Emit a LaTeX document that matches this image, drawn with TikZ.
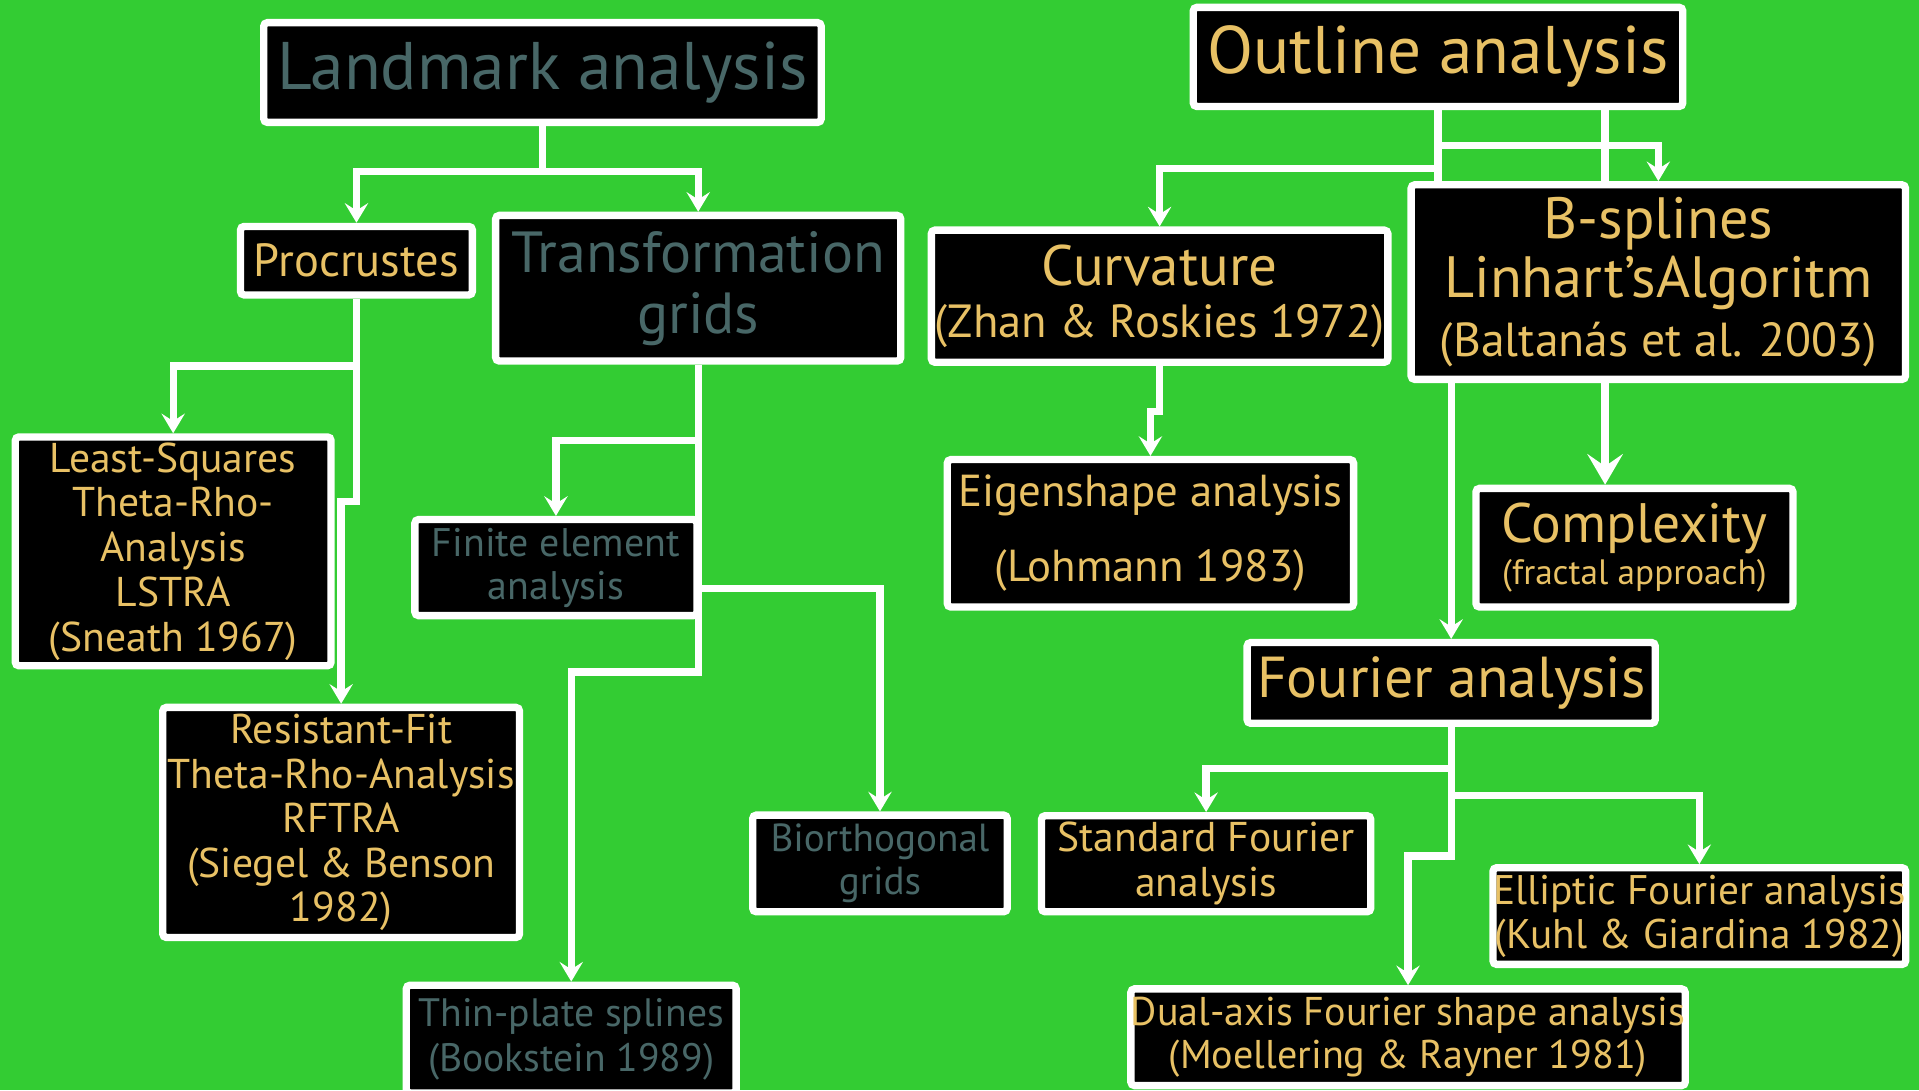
\documentclass[tikz,border=0pt]{standalone}
\usepackage{fontspec}
\setmainfont{PT Sans}
\usetikzlibrary{arrows.meta,calc}
\definecolor{bggreen}{RGB}{51,204,51}
\definecolor{boxgold}{RGB}{232,193,101}
\definecolor{boxslate}{RGB}{72,103,103}
\newcommand\boxfont[2]{\fontsize{#1}{#2}\selectfont}
\tikzset{
  box/.style={draw=white,fill=black,line width=3pt,inner sep=0pt,align=center,rounded corners=1.5pt},
  goldbox/.style={box,text=boxgold},
  slatebox/.style={box,text=boxslate},
  link/.style={draw=white,line width=3pt},
  conn/.style={link,-{Stealth[length=8pt,width=9.5pt,inset=3pt]}},
  bigconn/.style={link,-{Stealth[length=12.5pt,width=14.5pt,inset=5pt]}}
}

\begin{document}
\begin{tikzpicture}[x=0.5pt,y=-0.5pt]
\useasboundingbox (0,0) rectangle (1568,891);
\fill[bggreen] (0,0) rectangle (1568,891);
% landmark side
\node[slatebox,minimum width=227.75pt,minimum height=40.75pt,font=\boxfont{27.5}{33}] (land) at (443.25,59.25) {Landmark analysis};
\node[goldbox,minimum width=94.75pt,minimum height=28pt,font=\boxfont{19}{22}] (proc) at (291.25,213) {Procrustes};
\node[slatebox,minimum width=165.5pt,minimum height=59.5pt,font=\boxfont{23.7}{25}] (trans) at (570.5,235.5) {Transformation\\grids};
\node[goldbox,minimum width=129pt,minimum height=93.5pt,font=\boxfont{17}{18.3}] (lstra) at (141.5,450.5) {Least-Squares\\Theta-Rho-\\Analysis\\LSTRA\\(Sneath 1967)};
\node[slatebox,minimum width=115.25pt,minimum height=39.25pt,font=\boxfont{16.3}{17.5}] (fin) at (454.25,463.75) {Finite element\\analysis};
\node[goldbox,minimum width=145.75pt,minimum height=94pt,font=\boxfont{17}{18.2}] (rftra) at (278.75,672) {Resistant-Fit\\Theta-Rho-Analysis\\RFTRA\\(Siegel \& Benson\\1982)};
\node[slatebox,minimum width=104pt,minimum height=39.5pt,font=\boxfont{16}{17.5}] (bio) at (719,705.5) {Biorthogonal\\grids};
\node[slatebox,minimum width=134.75pt,minimum height=44pt,font=\boxfont{16.2}{18.5}] (thin) at (466.75,849) {Thin-plate splines\\(Bookstein 1989)};
% outline side
\node[goldbox,minimum width=200pt,minimum height=40.5pt,font=\boxfont{27.5}{33}] (outl) at (1175,46.5) {Outline analysis};
\node[goldbox,minimum width=186.5pt,minimum height=54pt,font=\boxfont{19}{21.5}] (curv) at (947.5,242) {{\boxfont{23.3}{21.5}Curvature}\\(Zhan \& Roskies 1972)};
\node[goldbox,minimum width=202pt,minimum height=79.5pt,font=\boxfont{19.5}{24}] (bspl) at (1355,230.5) {{\boxfont{23.8}{24}B-splines}\\{\boxfont{23.8}{24}Linhart’sAlgoritm}\\(Baltanás et al. 2003)};
\node[goldbox,minimum width=166pt,minimum height=60.25pt,font=\boxfont{18.3}{30.5}] (eig) at (940,435.75) {Eigenshape analysis\\(Lohmann 1983)};
\node[goldbox,minimum width=129.5pt,minimum height=48.5pt,font=\boxfont{14.4}{17}] (comp) at (1335.5,447.5) {{\boxfont{22.7}{17}Complexity}\\(fractal approach)};
\node[goldbox,minimum width=166.75pt,minimum height=33pt,font=\boxfont{23.6}{28}] (four) at (1185.75,558) {Fourier analysis};
\node[goldbox,minimum width=134.5pt,minimum height=39.25pt,font=\boxfont{17}{18.5}] (std) at (985.5,705.75) {Standard Fourier\\analysis};
\node[goldbox,minimum width=165.5pt,minimum height=39.5pt,font=\boxfont{16.9}{18}] (ell) at (1388.5,748.5) {Elliptic Fourier analysis\\(Kuhl \& Giardina 1982)};
\node[goldbox,minimum width=226.5pt,minimum height=39.5pt,font=\boxfont{16.4}{17.5}] (dual) at (1150.5,847.5) {Dual-axis Fourier shape analysis\\(Moellering \& Rayner 1981)};
% connectors
\coordinate (bx) at (1311.5,0);
\draw[conn] (land.south) -- ++(0,37) -| (proc.north);
\draw[conn] (land.south) -- ++(0,37) -| (trans.north);
\draw[conn] (proc.south) -- ++(0,55) -| (lstra.north);
\draw[conn] (proc.south) -- ++(0,166) -| (rftra.north);
\draw[conn] (trans.south) -- ++(0,62) -| (fin.north);
\draw[conn] (trans.south) -- ++(0,251) -| (thin.north);
\draw[conn] ($(trans.south)+(0,183)$) -| (bio.north);
\draw[link] (outl.south) -- (outl.south |- bspl.north);
\draw[link] (outl.south -| bx) -- (bspl.north -| bx);
\draw[conn] (outl.south) -- ++(0,29) -| (bspl.north);
\draw[conn] (outl.south) -- ++(0,47.5) -| (curv.north);
\draw[conn] (curv.south) -- ++(0,37) -| (eig.north);
\draw[conn] (bspl.south -| four.north) -- (four.north);
\draw[bigconn] (bspl.south -| bx) -- (comp.north -| bx);
\draw[conn] (four.south) -- ++(0,34) -| (std.north);
\draw[conn] ($(four.south)+(0,56)$) -| (ell.north);
\draw[conn] (four.south) -- ++(0,105.5) -| (dual.north);
\end{tikzpicture}
\end{document}
